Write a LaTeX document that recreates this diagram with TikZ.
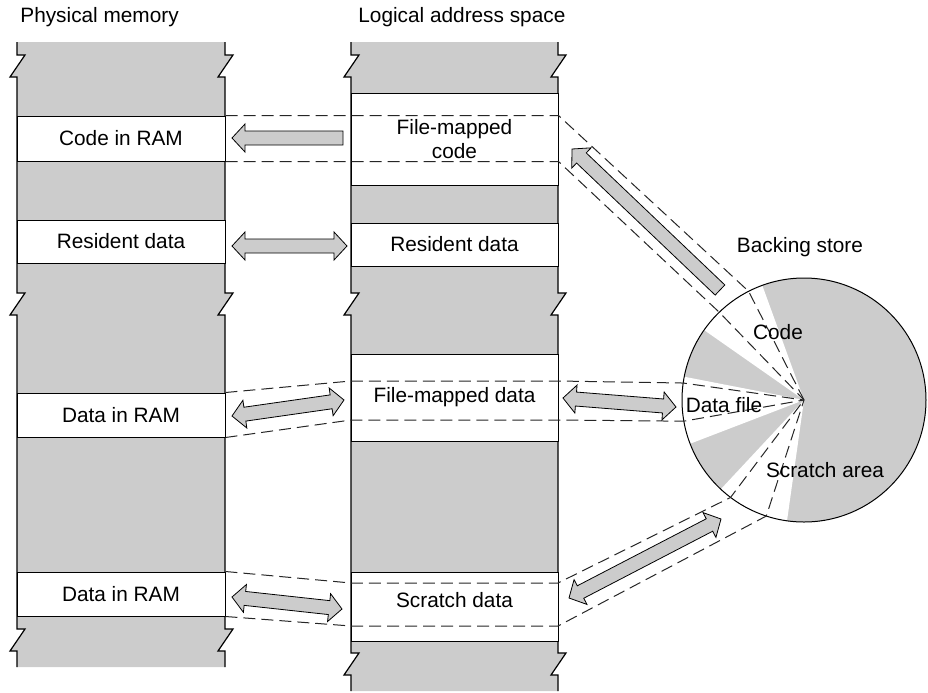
\documentclass[tikz,border=0pt]{standalone}
\usepackage{fontspec}
\setmainfont{Liberation Sans}
\usetikzlibrary{calc}

% block arrow, tip at #2
\newcommand\blkarrow[2]{%
  \path ($(#2)!6.5pt!(#1)$) coordinate (hb);
  \filldraw[blockarrow] ($(#1)!3.5pt!90:(#2)$) -- ($(hb)!3.5pt!90:(#2)$) -- ($(hb)!7pt!90:(#2)$) -- (#2)
    -- ($(hb)!7pt!-90:(#2)$) -- ($(hb)!3.5pt!-90:(#2)$) -- ($(#1)!3.5pt!-90:(#2)$) -- cycle;}
% block arrow, tips at both ends
\newcommand\dblkarrow[2]{%
  \path ($(#1)!6.5pt!(#2)$) coordinate (ha) ($(#2)!6.5pt!(#1)$) coordinate (hb);
  \filldraw[blockarrow] (#1) -- ($(ha)!7pt!90:(#2)$) -- ($(ha)!3.5pt!90:(#2)$) -- ($(hb)!3.5pt!90:(#2)$)
    -- ($(hb)!7pt!90:(#2)$) -- (#2) -- ($(hb)!7pt!-90:(#2)$) -- ($(hb)!3.5pt!-90:(#2)$)
    -- ($(ha)!3.5pt!-90:(#2)$) -- ($(ha)!7pt!-90:(#2)$) -- cycle;}

\begin{document}
\begin{tikzpicture}[x=0.5pt, y=-0.5pt,
    memfill/.style={fill=gray!40},
    edge/.style={line width=0.6pt},
    band/.style={draw, fill=white, line width=0.5pt, inner sep=0pt, align=center,
      font=\fontsize{10.4}{12}\selectfont},
    leftband/.style={band, minimum width=104pt},
    midband/.style={band, minimum width=103.5pt},
    mapline/.style={draw=black!85, line width=0.5pt, dash pattern=on 6pt off 3pt},
    blockarrow/.style={fill=gray!40, draw=black, line width=0.4pt},
    lbl/.style={font=\fontsize{10.4}{12}\selectfont, inner sep=0pt}
]
    \useasboundingbox (0,0) rectangle (928,692);
    % Headings
    \node[lbl, anchor=west] (physhead) at (20,17) {Physical memory};
    \node[lbl, anchor=west] (loghead) at (358,17) {Logical address space};
    \node[lbl] (bshead) at (800,247) {Backing store};
    % Memory columns with torn edges
    \foreach \xl/\xr/\yb/\zb in {17/225/667/629, 351/558/691/653} {
      \fill[memfill] (\xl,42) \foreach \z in {55,293,\zb} { -- (\xl,\z) -- ++(8,0) -- ++(-15,22) -- ++(7,0) }
        -- (\xl,\yb) -- (\xr,\yb) \foreach \z in {\zb,293,55} { -- (\xr,\z+22) -- ++(-7,0) -- ++(15,-22) -- ++(-8,0) }
        -- (\xr,42) -- cycle;
      \foreach \x in {\xl,\xr}
        \draw[edge] (\x,42) \foreach \z in {55,293,\zb} { -- (\x,\z) -- ++(8,0) -- ++(-15,22) -- ++(7,0) } -- (\x,\yb);
    }
    % Physical memory bands
    \node[leftband, minimum height=22.5pt] (ramcode) at (121,138.5) {Code in RAM};
    \node[leftband, minimum height=21.5pt] (ramres) at (121,241.5) {Resident data};
    \node[leftband, minimum height=22pt] (ramdata) at (121,415) {Data in RAM};
    \node[leftband, minimum height=22pt] (ramscratch) at (121,594) {Data in RAM};
    % Logical address space bands
    \node[midband, minimum height=46pt] (logcode) at (454.5,139) {File-mapped\\code};
    \node[midband, minimum height=21.5pt] (logres) at (454.5,244.5) {Resident data};
    \node[midband, minimum height=43.5pt] (logdata) at (454.5,397.5) {File-mapped data};
    \node[midband, minimum height=34.5pt] (logscratch) at (454.5,606.5) {};
    \node[lbl] (scratchtxt) at (454.5,600) {Scratch data};
    % Backing store
    \coordinate (bs) at (804,400);
    \fill[memfill] (bs) circle[radius=61pt];
    \foreach \a/\b in {110/145, 169/201, 227/262}
      \fill[white] (bs) -- ++(\a:61pt) arc[start angle=\a, end angle=\b, radius=61pt] -- cycle;
    \draw[line width=0.5pt] (bs) circle[radius=61pt];
    % Mappings
    \draw[mapline] (ramcode.north east) -- (ramcode.north east -| logcode.east) -- ($(bs)+(117:61pt)$) -- (bs);
    \draw[mapline] (ramcode.south east) -- (ramcode.south east -| logcode.east) -- ($(bs)+(134:61pt)$) -- (bs);
    \draw[mapline] (ramdata.north east) -- (351,381) -- (558,381) -- ($(bs)+(172:61pt)$) -- (bs);
    \draw[mapline] (ramdata.south east) -- (351,420) -- (558,420) -- ($(bs)+(190:61pt)$) -- (bs);
    \draw[mapline] (ramscratch.north east) -- (351,583) -- (558,583) -- ($(bs)+(233:61pt)$) -- (bs);
    \draw[mapline] (ramscratch.south east) -- (351,626) -- (558,626) -- ($(bs)+(252:61pt)$) -- (bs);
    % Store labels
    \node[lbl] (bscode) at (778,332) {Code};
    \node[lbl] (bsdata) at (724,405) {Data file};
    \node[lbl] (bsscratch) at (825,470) {Scratch area};
    % Transfer arrows
    \coordinate (c1) at (343,138); \coordinate (c2) at (232,138);
    \coordinate (r1) at (232,246); \coordinate (r2) at (347,246);
    \coordinate (d1) at (232,416); \coordinate (d2) at (344,400);
    \coordinate (d3) at (563,398); \coordinate (d4) at (676,407);
    \coordinate (s1) at (232,597); \coordinate (s2) at (342,609);
    \coordinate (s3) at (569,598); \coordinate (s4) at (721,519);
    \coordinate (k1) at (720,290); \coordinate (k2) at (572,149);
    \blkarrow{c1}{c2}
    \dblkarrow{r1}{r2}
    \dblkarrow{d1}{d2}
    \dblkarrow{d3}{d4}
    \dblkarrow{s1}{s2}
    \dblkarrow{s3}{s4}
    \blkarrow{k1}{k2}
\end{tikzpicture}
\end{document}
